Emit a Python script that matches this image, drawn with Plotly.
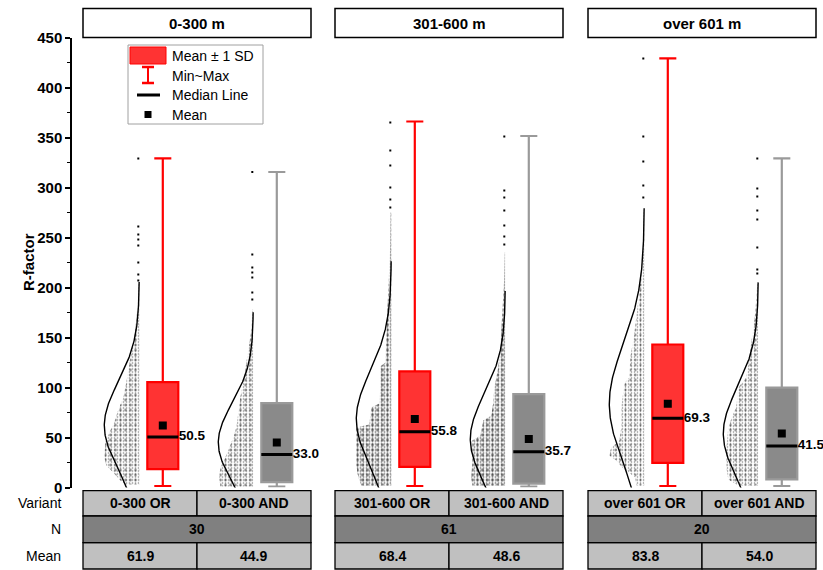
import numpy as np
import plotly.graph_objects as go

# ---------------- data ----------------
panels = ["0-300 m", "301-600 m", "over 601 m"]
variants = ["0-300 OR", "0-300 AND", "301-600 OR", "301-600 AND", "over 601 OR", "over 601 AND"]
n_values = [30, 61, 20]
means = [61.9, 44.9, 68.4, 48.6, 83.8, 54.0]
sds = [43.5, 39.5, 47.8, 44.8, 59.2, 45.8]
medians = [50.5, 33.0, 55.8, 35.7, 69.3, 41.5]
mins = [1.5, 1.0, 1.5, 1.0, 1.5, 1.5]
maxs = [329.2, 315.5, 366.0, 351.5, 429.2, 329.2]
ytick_vals = [0, 50, 100, 150, 200, 250, 300, 350, 400, 450]
yminor_vals = [25, 75, 125, 175, 225, 275, 325, 375, 425]

# outline of each point cloud: value levels and cloud width (px)
cloud_levels = [
    [3, 8, 15, 22, 30, 45, 55, 65, 75, 90, 105, 124, 140, 157, 180, 204],
    [1, 10, 20, 30, 40, 50, 60, 75, 90, 105, 124, 140, 157, 178],
    [2, 10, 22, 40, 60, 63, 80, 84, 100, 121, 125, 150, 174, 207, 240, 275],
    [2, 10, 25, 47, 52, 67, 72, 85, 100, 120, 141, 174, 207, 235],
    [2, 10, 20, 27, 32, 40, 47, 60, 80, 104, 110, 130, 154, 187, 221, 250, 277],
    [2, 8, 20, 40, 60, 74, 80, 100, 110, 130, 154, 175, 204],
]
cloud_widths = [
    [14, 20, 26, 33, 35, 34, 30, 25, 22, 16, 13, 10, 7, 4, 2, 0.8],
    [33, 34, 33, 28, 24, 20, 17, 15, 13, 10, 7, 4, 2, 0.8],
    [30, 33, 35, 35, 35, 22, 20, 12, 11, 11, 6, 5, 4, 2, 1.2, 0.8],
    [33, 34, 33, 33, 25, 22, 14, 12, 11, 7, 5, 3, 1.2, 0.6],
    [8, 9, 22, 28, 35, 33, 25, 23, 23, 20, 15, 14, 10, 6, 3, 1.5, 0.8],
    [20, 30, 32, 32, 30, 25, 22, 20, 12, 9, 6, 3, 1],
]
# isolated high points above each cloud
outlier_values = [
    [329, 261, 253, 248, 242, 225, 213, 207],
    [315.5, 233, 220, 215, 210, 195, 188],
    [365, 337, 322, 300, 288, 280],
    [351, 297, 290, 277, 262, 251, 243],
    [429, 351, 326, 302, 290],
    [329, 299, 291, 277, 268, 240, 218, 214],
]

# ---------------- geometry / style ----------------
W, H = 823, 570
FONT = "Arial, Liberation Sans, sans-serif"


def px_x(px):
    return px / W


def px_y(py):
    return 1 - py / H


panel_px = [(83, 311), (335, 563), (588, 816)]
X_RANGE = [0.3, 2.3]
UNIT = (panel_px[0][1] - panel_px[0][0]) / (X_RANGE[1] - X_RANGE[0])  # px per x unit
BOX_W = 31 / UNIT
BASE_OFF = 23.5 / UNIT
CURVE_W = 35 / UNIT

RED_FILL = "rgba(255,0,0,0.8)"
RED_LINE = "#ff0000"
GRAY_FILL = "#8a8a8a"
GRAY_LINE = "#9a9a9a"
CLOUD_SOLIDITY = [0.32, 0.32, 0.42, 0.42, 0.28, 0.3]

fig = go.Figure()

for i in range(len(variants)):
    p, gi = divmod(i, 2)
    xa = "x" if p == 0 else f"x{p + 1}"
    g = 1 + gi
    base = g - BASE_OFF

    # point cloud (stipple-filled outline, two overlaid dot grids)
    lv = np.array(cloud_levels[i], dtype=float)
    wd = np.array(cloud_widths[i], dtype=float) / UNIT
    xs = np.concatenate([[base], base - wd, [base, base]])
    ys = np.concatenate([[lv[0]], lv, [lv[-1], lv[0]]])
    for tile, sol in ((3, CLOUD_SOLIDITY[i] * 0.7), (5, CLOUD_SOLIDITY[i] * 0.6)):
        fig.add_trace(go.Scatter(
            x=xs, y=ys, mode="lines", fill="toself", line=dict(width=0, color="rgba(0,0,0,0)"),
            fillcolor="rgba(0,0,0,0)",
            fillpattern=dict(shape=".", fgcolor="black", bgcolor="rgba(0,0,0,0)", size=tile,
                             solidity=sol),
            xaxis=xa, yaxis="y", hoverinfo="skip"))

    # isolated points
    ov = outlier_values[i]
    fig.add_trace(go.Scatter(
        x=[base - 1 / UNIT] * len(ov), y=ov, mode="markers",
        marker=dict(symbol="square", size=2, color="black", line=dict(width=0)),
        xaxis=xa, yaxis="y", hoverinfo="skip", cliponaxis=False))

    # normal distribution curve from mean and SD
    yv = np.linspace(means[i] - 3.3 * sds[i], means[i] + 3.3 * sds[i], 300)
    xv = base - CURVE_W * np.exp(-0.5 * ((yv - means[i]) / sds[i]) ** 2)
    fig.add_trace(go.Scatter(
        x=xv, y=yv, mode="lines", line=dict(color="black", width=1.4),
        xaxis=xa, yaxis="y", hoverinfo="skip"))

    # box: mean ± 1 SD, whiskers min~max
    is_or = gi == 0
    fig.add_trace(go.Box(
        x=[g], q1=[means[i] - sds[i]], q3=[means[i] + sds[i]], median=[medians[i]],
        lowerfence=[mins[i]], upperfence=[maxs[i]],
        width=BOX_W, whiskerwidth=0.55, boxpoints=False,
        fillcolor=RED_FILL if is_or else GRAY_FILL,
        line=dict(color=RED_LINE if is_or else GRAY_LINE, width=2.2),
        xaxis=xa, yaxis="y", hoverinfo="skip"))

    # median line
    fig.add_trace(go.Scatter(
        x=[g - BOX_W / 2, g + BOX_W / 2], y=[medians[i], medians[i]], mode="lines",
        line=dict(color="black", width=3), xaxis=xa, yaxis="y", hoverinfo="skip"))

    # mean marker
    fig.add_trace(go.Scatter(
        x=[g], y=[means[i]], mode="markers",
        marker=dict(symbol="square", size=8, color="black", line=dict(width=0)),
        xaxis=xa, yaxis="y", hoverinfo="skip"))

    # median label
    fig.add_trace(go.Scatter(
        x=[g + BOX_W / 2 + 0.5 / UNIT], y=[medians[i]], mode="text", text=[f"{medians[i]:.1f}"],
        textposition="middle right", textfont=dict(size=13.5, color="black", family=FONT, weight="bold"),
        xaxis=xa, yaxis="y", hoverinfo="skip", cliponaxis=False))

layout = dict(
    width=W, height=H, margin=dict(l=0, r=0, t=0, b=0),
    plot_bgcolor="white", paper_bgcolor="white", showlegend=False, boxmode="overlay",
    font=dict(family=FONT, color="black"),
)
for p in range(3):
    key = "xaxis" if p == 0 else f"xaxis{p + 1}"
    layout[key] = dict(domain=[px_x(panel_px[p][0]), min(1.0, px_x(panel_px[p][1]))], range=X_RANGE,
                       visible=False, anchor="y")
layout["yaxis"] = dict(
    domain=[px_y(487.5), px_y(37.5)], range=[0, 450], anchor="free", position=px_x(71),
    showline=True, linecolor="black", linewidth=1.5, ticks="outside", ticklen=5, tickwidth=1.5,
    tickcolor="black", tickvals=ytick_vals, tickfont=dict(size=15, weight="bold", family=FONT),
    minor=dict(tickvals=yminor_vals, ticks="outside", ticklen=3, tickcolor="black", tickwidth=1),
    showgrid=False, zeroline=False, automargin=False,
)
fig.update_layout(**layout)

shapes = []
annotations = []


def ann(x, y, text, xref="paper", size=14, xanchor="center"):
    return dict(x=x, y=y, xref=xref, yref="paper", text=text, showarrow=False,
                xanchor=xanchor, yanchor="middle", font=dict(size=size, family=FONT, color="black"))


# y title
a = ann(px_x(28), px_y(262), "<b>R-factor</b>", size=15)
a["textangle"] = -90
annotations.append(a)

# panel headers and tables
rows = [(490.7, 516.0), (516.0, 542.7), (542.7, 569.0)]
LIGHT = "#c0c0c0"
DARK = "#808080"
for p in range(3):
    xa = "x" if p == 0 else f"x{p + 1}"
    dref = f"{xa} domain"
    shapes.append(dict(type="rect", xref=dref, yref="paper", x0=0, x1=1, y0=px_y(37.5), y1=px_y(8.5),
                       line=dict(color="black", width=1.5), fillcolor="white"))
    annotations.append(ann(0.5, px_y(23), f"<b>{panels[p]}</b>", xref=dref, size=15))
    # row 1: variants, row 3: means
    for r, vals in ((0, variants), (2, [f"{m:.1f}" for m in means])):
        for c in range(2):
            shapes.append(dict(type="rect", xref=dref, yref="paper", x0=0.5 * c, x1=0.5 * (c + 1),
                               y0=px_y(rows[r][1]), y1=px_y(rows[r][0]),
                               line=dict(color="black", width=1.3), fillcolor=LIGHT))
            annotations.append(ann(0.25 + 0.5 * c, px_y((rows[r][0] + rows[r][1]) / 2),
                                   f"<b>{vals[2 * p + c]}</b>", xref=dref))
    shapes.append(dict(type="rect", xref=dref, yref="paper", x0=0, x1=1,
                       y0=px_y(rows[1][1]), y1=px_y(rows[1][0]),
                       line=dict(color="black", width=1.3), fillcolor=DARK))
    annotations.append(ann(0.5, px_y((rows[1][0] + rows[1][1]) / 2), f"<b>{n_values[p]}</b>", xref=dref))

for r, lab in enumerate(["Variant", "N", "Mean"]):
    annotations.append(ann(px_x(63), px_y((rows[r][0] + rows[r][1]) / 2), lab, xanchor="right"))


# legend (drawn)
def prect(x0, y0, x1, y1, **kw):
    return dict(type="rect", xref="paper", yref="paper", x0=px_x(x0), x1=px_x(x1), y0=px_y(y1), y1=px_y(y0), **kw)


def pline(x0, y0, x1, y1, **kw):
    return dict(type="line", xref="paper", yref="paper", x0=px_x(x0), x1=px_x(x1), y0=px_y(y0), y1=px_y(y1), **kw)


shapes.append(prect(128, 45, 263, 124, line=dict(color="#a0a0a0", width=1), fillcolor="white"))
shapes.append(prect(130, 47, 166, 64, line=dict(color=RED_LINE, width=1), fillcolor=RED_FILL))
shapes.append(pline(148, 67, 148, 83, line=dict(color=RED_LINE, width=2)))
shapes.append(pline(142, 67, 154, 67, line=dict(color=RED_LINE, width=2.5)))
shapes.append(pline(142, 83, 154, 83, line=dict(color=RED_LINE, width=2.5)))
shapes.append(pline(137, 95, 160, 95, line=dict(color="black", width=3)))
shapes.append(prect(144.5, 111, 151.5, 118, line=dict(width=0), fillcolor="black"))
for txt, yy in (("Mean ± 1 SD", 56), ("Min~Max", 76), ("Median Line", 95), ("Mean", 114.5)):
    annotations.append(ann(px_x(170), px_y(yy), txt, xanchor="left"))

fig.update_layout(shapes=shapes, annotations=annotations)
fig.write_html("out.html", config={"displayModeBar": False},
               post_script="document.body.style.margin='0';document.body.style.overflow='hidden';")
